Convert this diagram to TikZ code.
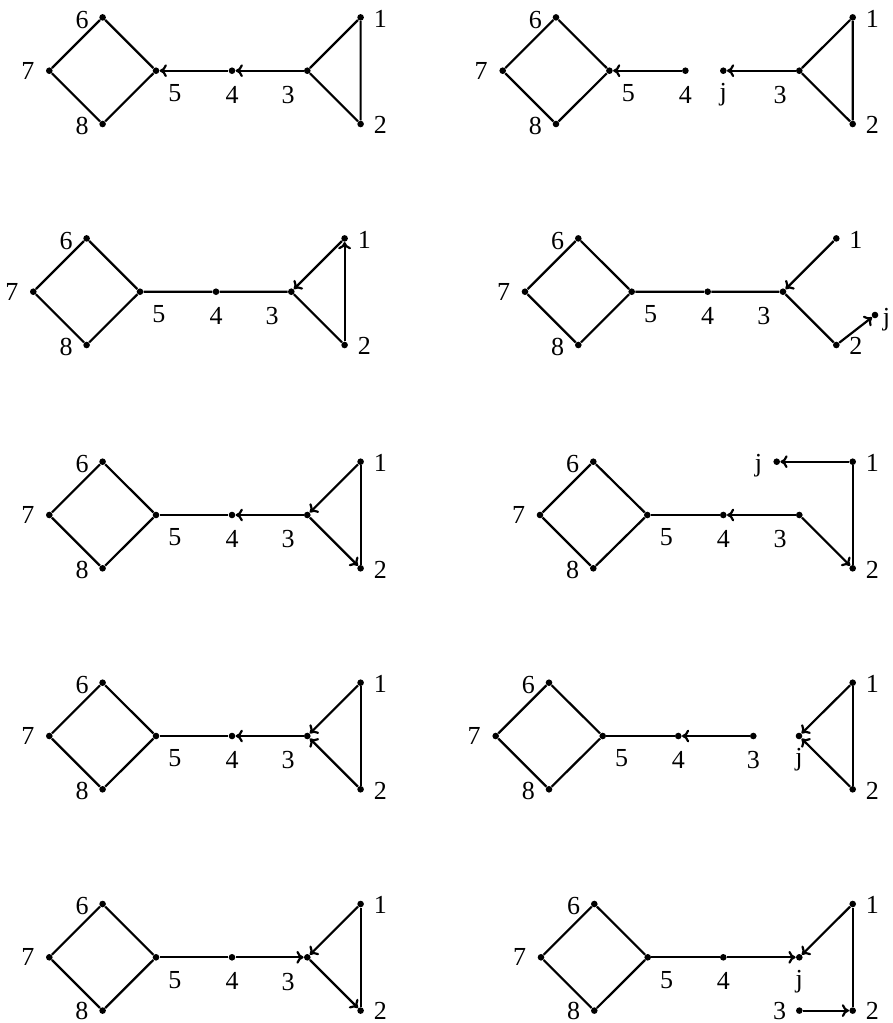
\documentclass[tikz,border=0pt]{standalone}
\usepackage{fontspec}
\setmainfont{Liberation Serif}
\usetikzlibrary{arrows.meta}
\tikzset{
  vtx/.style={circle, fill=black, inner sep=0pt, minimum size=3.3pt},
  lbl/.style={anchor=center, inner sep=0pt, font=\fontsize{13}{15}\selectfont},
  labL/.style={label={[lbl,label distance=8.5pt]186:#1}},
  labW/.style={label={[lbl,label distance=8.9pt]180:#1}},
  labR/.style={label={[lbl,label distance=8pt]-4:#1}},
  labB/.style={label={[lbl,label distance=10.2pt]-90:#1}},
  labBR/.style={label={[lbl,label distance=12.9pt]-50:#1}},
  labBL/.style={label={[lbl,label distance=13.7pt]-128:#1}},
  plainln/.style={line width=1.1pt, line join=round},
  dirln/.style={plainln, -{To[length=3.6pt,width=6.4pt]}},
}
\begin{document}
\begin{tikzpicture}[x=0.5pt, y=-0.5pt]
\useasboundingbox (0,0) rectangle (893,1023);
% Row 1, left
\begin{scope}[shift={(49.3,70.7)}]
  \node[vtx, labW=7] (A7) at (0,0) {};
  \node[vtx, labL=6] (A6) at (53.3,-53.3) {};
  \node[vtx, labL=8] (A8) at (53.3,53.3) {};
  \node[vtx, labBR=5] (A5) at (106.7,0) {};
  \node[vtx, labB=4] (A4) at (182.7,0) {};
  \node[vtx, labBL=3] (A3) at (258,0) {};
  \node[vtx, labR=1] (A1) at (311.3,-53.3) {};
  \node[vtx, labR=2] (A2) at (311.3,53.3) {};
  \draw[plainln] (A7) -- (A6) -- (A5) -- (A8) -- (A7);
  \draw[plainln] (A1) -- (A3) -- (A2) -- (A1);
  \draw[dirln] (A3) -- (A4);
  \draw[dirln] (A4) -- (A5);
\end{scope}
% Row 1, right
\begin{scope}[shift={(502.7,70.7)}]
  \node[vtx, labW=7] (B7) at (0,0) {};
  \node[vtx, labL=6] (B6) at (53.3,-53.3) {};
  \node[vtx, labL=8] (B8) at (53.3,53.3) {};
  \node[vtx, labBR=5] (B5) at (106.7,0) {};
  \node[vtx, labB=4] (B4) at (182.7,0) {};
  \node[vtx, labB=j] (Bj) at (220.6,0) {};
  \node[vtx, labBL=3] (B3) at (296.6,0) {};
  \node[vtx, labR=1] (B1) at (350,-53.3) {};
  \node[vtx, labR=2] (B2) at (350,53.3) {};
  \draw[plainln] (B7) -- (B6) -- (B5) -- (B8) -- (B7);
  \draw[plainln] (B1) -- (B3) -- (B2) -- (B1);
  \draw[dirln] (B4) -- (B5);
  \draw[dirln] (B3) -- (Bj);
\end{scope}
% Row 2, left
\begin{scope}[shift={(33.3,291.7)}]
  \node[vtx, labW=7] (C7) at (0,0) {};
  \node[vtx, labL=6] (C6) at (53.3,-53.3) {};
  \node[vtx, labL=8] (C8) at (53.3,53.3) {};
  \node[vtx, labBR=5] (C5) at (106.7,0) {};
  \node[vtx, labB=4] (C4) at (182.7,0) {};
  \node[vtx, labBL=3] (C3) at (258,0) {};
  \node[vtx, labR=1] (C1) at (311.3,-53.3) {};
  \node[vtx, labR=2] (C2) at (311.3,53.3) {};
  \draw[plainln] (C7) -- (C6) -- (C5) -- (C8) -- (C7);
  \draw[plainln] (C5) -- (C4) -- (C3) -- (C2);
  \draw[dirln] (C2) -- (C1);
  \draw[dirln] (C1) -- (C3);
\end{scope}
% Row 2, right
\begin{scope}[shift={(525,291.7)}]
  \node[vtx, labW=7] (D7) at (0,0) {};
  \node[vtx, labL=6] (D6) at (53.3,-53.3) {};
  \node[vtx, labL=8] (D8) at (53.3,53.3) {};
  \node[vtx, labBR=5] (D5) at (106.7,0) {};
  \node[vtx, labB=4] (D4) at (182.7,0) {};
  \node[vtx, labBL=3] (D3) at (258,0) {};
  \node[vtx, labR=1] (D1) at (311.3,-53.3) {};
  \node[vtx, labR=2] (D2) at (311.3,53.3) {};
  \node[vtx, label={[lbl,label distance=4.3pt]-20:j}] (Dj) at (350,23.3) {};
  \draw[plainln] (D7) -- (D6) -- (D5) -- (D8) -- (D7);
  \draw[plainln] (D5) -- (D4) -- (D3) -- (D2);
  \draw[dirln] (D1) -- (D3);
  \draw[dirln] (D2) -- (Dj);
\end{scope}
% Row 3, left
\begin{scope}[shift={(49.3,515)}]
  \node[vtx, labW=7] (E7) at (0,0) {};
  \node[vtx, labL=6] (E6) at (53.3,-53.3) {};
  \node[vtx, labL=8] (E8) at (53.3,53.3) {};
  \node[vtx, labBR=5] (E5) at (106.7,0) {};
  \node[vtx, labB=4] (E4) at (182.7,0) {};
  \node[vtx, labBL=3] (E3) at (258,0) {};
  \node[vtx, labR=1] (E1) at (311.3,-53.3) {};
  \node[vtx, labR=2] (E2) at (311.3,53.3) {};
  \draw[plainln] (E7) -- (E6) -- (E5) -- (E8) -- (E7);
  \draw[plainln] (E5) -- (E4);
  \draw[plainln] (E1) -- (E2);
  \draw[dirln] (E3) -- (E4);
  \draw[dirln] (E1) -- (E3);
  \draw[dirln] (E3) -- (E2);
\end{scope}
% Row 3, right
\begin{scope}[shift={(540,515)}]
  \node[vtx, labW=7] (F7) at (0,0) {};
  \node[vtx, labL=6] (F6) at (53.3,-53.3) {};
  \node[vtx, labL=8] (F8) at (53.3,53.3) {};
  \node[vtx, labBR=5] (F5) at (107.3,0) {};
  \node[vtx, labB=4] (F4) at (183.3,0) {};
  \node[vtx, labBL=3] (F3) at (259.3,0) {};
  \node[vtx, labR=1] (F1) at (312.7,-53.3) {};
  \node[vtx, labR=2] (F2) at (312.7,53.3) {};
  \node[vtx, label={[lbl,label distance=7.5pt]193:j}] (Fj) at (236.7,-53.3) {};
  \draw[plainln] (F7) -- (F6) -- (F5) -- (F8) -- (F7);
  \draw[plainln] (F5) -- (F4);
  \draw[plainln] (F1) -- (F2);
  \draw[dirln] (F3) -- (F4);
  \draw[dirln] (F3) -- (F2);
  \draw[dirln] (F1) -- (Fj);
\end{scope}
% Row 4, left
\begin{scope}[shift={(49.3,736)}]
  \node[vtx, labW=7] (G7) at (0,0) {};
  \node[vtx, labL=6] (G6) at (53.3,-53.3) {};
  \node[vtx, labL=8] (G8) at (53.3,53.3) {};
  \node[vtx, labBR=5] (G5) at (106.7,0) {};
  \node[vtx, labB=4] (G4) at (182.7,0) {};
  \node[vtx, labBL=3] (G3) at (258,0) {};
  \node[vtx, labR=1] (G1) at (311.3,-53.3) {};
  \node[vtx, labR=2] (G2) at (311.3,53.3) {};
  \draw[plainln] (G7) -- (G6) -- (G5) -- (G8) -- (G7);
  \draw[plainln] (G5) -- (G4);
  \draw[plainln] (G1) -- (G2);
  \draw[dirln] (G3) -- (G4);
  \draw[dirln] (G1) -- (G3);
  \draw[dirln] (G2) -- (G3);
\end{scope}
% Row 4, right
\begin{scope}[shift={(495.7,736)}]
  \node[vtx, labW=7] (H7) at (0,0) {};
  \node[vtx, labL=6] (H6) at (53.3,-53.3) {};
  \node[vtx, labL=8] (H8) at (53.3,53.3) {};
  \node[vtx, labBR=5] (H5) at (107,0) {};
  \node[vtx, labB=4] (H4) at (182.6,0) {};
  \node[vtx, labB=3] (H3) at (257.6,0) {};
  \node[vtx, labB=j] (Hj) at (303.3,0) {};
  \node[vtx, labR=1] (H1) at (357,-53.3) {};
  \node[vtx, labR=2] (H2) at (357,53.3) {};
  \draw[plainln] (H7) -- (H6) -- (H5) -- (H8) -- (H7);
  \draw[plainln] (H5) -- (H4);
  \draw[plainln] (H1) -- (H2);
  \draw[dirln] (H3) -- (H4);
  \draw[dirln] (H1) -- (Hj);
  \draw[dirln] (H2) -- (Hj);
\end{scope}
% Row 5, left
\begin{scope}[shift={(49.3,957.3)}]
  \node[vtx, labW=7] (I7) at (0,0) {};
  \node[vtx, labL=6] (I6) at (53.3,-53.3) {};
  \node[vtx, label={[lbl,label distance=8.5pt]180:8}] (I8) at (53.3,53.3) {};
  \node[vtx, labBR=5] (I5) at (106.7,0) {};
  \node[vtx, labB=4] (I4) at (182.7,0) {};
  \node[vtx, labBL=3] (I3) at (258,0) {};
  \node[vtx, labR=1] (I1) at (311.3,-53.3) {};
  \node[vtx, label={[lbl,label distance=8pt]0:2}] (I2) at (311.3,53.3) {};
  \draw[plainln] (I7) -- (I6) -- (I5) -- (I8) -- (I7);
  \draw[plainln] (I5) -- (I4);
  \draw[plainln] (I1) -- (I2);
  \draw[dirln] (I4) -- (I3);
  \draw[dirln] (I1) -- (I3);
  \draw[dirln] (I3) -- (I2);
\end{scope}
% Row 5, right
\begin{scope}[shift={(541,957.3)}]
  \node[vtx, labW=7] (J7) at (0,0) {};
  \node[vtx, labL=6] (J6) at (53.3,-53.3) {};
  \node[vtx, label={[lbl,label distance=8.5pt]180:8}] (J8) at (53.3,53.3) {};
  \node[vtx, labBR=5] (J5) at (106.7,0) {};
  \node[vtx, labB=4] (J4) at (182.3,0) {};
  \node[vtx, labB=j] (Jj) at (258.3,0) {};
  \node[vtx, labR=1] (J1) at (311.7,-53.3) {};
  \node[vtx, label={[lbl,label distance=8pt]0:2}] (J2) at (311.7,53.3) {};
  \node[vtx, label={[lbl,label distance=8pt]180:3}] (J3) at (258.3,53.3) {};
  \draw[plainln] (J7) -- (J6) -- (J5) -- (J8) -- (J7);
  \draw[plainln] (J5) -- (J4);
  \draw[plainln] (J1) -- (J2);
  \draw[dirln] (J4) -- (Jj);
  \draw[dirln] (J1) -- (Jj);
  \draw[dirln] (J3) -- (J2);
\end{scope}
\end{tikzpicture}
\end{document}
